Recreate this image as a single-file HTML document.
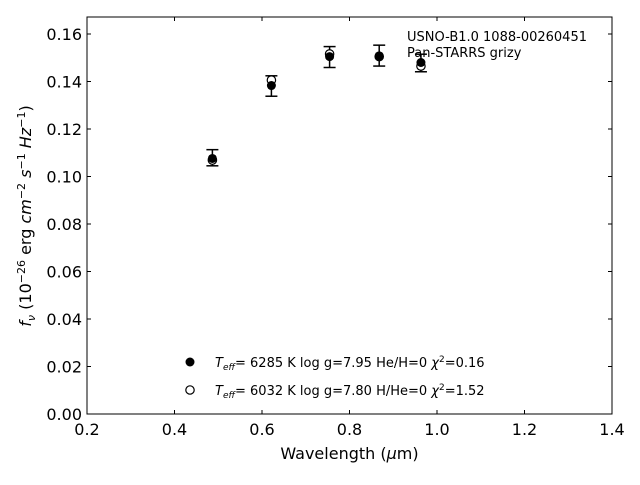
<!DOCTYPE html>
<html><head><meta charset="utf-8"><style>
html,body{margin:0;padding:0;background:#fff}
svg text{font-family:"DejaVu Sans","Liberation Sans",sans-serif}
</style></head><body>
<svg id="chart" width="640" height="480" viewBox="0 0 640 480" xmlns="http://www.w3.org/2000/svg">
<rect x="87" y="17" width="525" height="397" fill="none" stroke="#000" stroke-width="1"/>
<g id="axes"></g>
<g id="marks"></g>
<text x="349.5" y="459" font-size="16" text-anchor="middle">Wavelength (<tspan font-style="italic">μ</tspan>m)</text>
<text transform="translate(31,216) rotate(-90)" font-size="16" text-anchor="middle"><tspan font-style="italic">f</tspan><tspan font-style="italic" font-size="11" dy="4">ν</tspan><tspan dy="-4"> (10</tspan><tspan font-size="11" dy="-6">−26</tspan><tspan dy="6"> erg </tspan><tspan font-style="italic">cm</tspan><tspan font-size="11" dy="-6">−2</tspan><tspan dy="6"> </tspan><tspan font-style="italic">s</tspan><tspan font-size="11" dy="-6">−1</tspan><tspan dy="6"> </tspan><tspan font-style="italic">Hz</tspan><tspan font-size="11" dy="-6">−1</tspan><tspan dy="6">)</tspan></text>
<text x="407" y="41" font-size="13">USNO-B1.0 1088-00260451</text>
<text x="407" y="57" font-size="13">Pan-STARRS grizy</text>
<g font-size="13">
<circle cx="190" cy="362" r="4.5" fill="#000"/>
<text x="215" y="367"><tspan font-style="italic">T</tspan><tspan font-style="italic" font-size="9" dy="3">eff</tspan><tspan dy="-3">=  6285 K  log g=7.95  He/H=0  </tspan><tspan font-style="italic">χ</tspan><tspan font-size="9" dy="-5">2</tspan><tspan dy="5">=0.16</tspan></text>
<circle cx="190" cy="390" r="4.2" fill="#fff" stroke="#000" stroke-width="1.2"/>
<text x="215" y="395"><tspan font-style="italic">T</tspan><tspan font-style="italic" font-size="9" dy="3">eff</tspan><tspan dy="-3">=  6032 K  log g=7.80  H/He=0  </tspan><tspan font-style="italic">χ</tspan><tspan font-size="9" dy="-5">2</tspan><tspan dy="5">=1.52</tspan></text>
</g>
</svg>
<script>
const wavelengths = [0.4866, 0.6215, 0.7545, 0.8679, 0.9633];
const observedFlux = [0.1079, 0.1381, 0.1503, 0.1509, 0.1478];
const fluxErrors = [0.0034, 0.0043, 0.0044, 0.0044, 0.0037];
const modelHFlux = [0.1076, 0.1383, 0.1505, 0.1508, 0.1480];
const modelHeFlux = [0.1069, 0.1406, 0.1516, 0.1505, 0.1465];
const xTicks = [0.2, 0.4, 0.6, 0.8, 1.0, 1.2, 1.4];
const xTickLabels = ["0.2", "0.4", "0.6", "0.8", "1.0", "1.2", "1.4"];
const yTicks = [0, 0.02, 0.04, 0.06, 0.08, 0.10, 0.12, 0.14, 0.16];
const yTickLabels = ["0.00", "0.02", "0.04", "0.06", "0.08", "0.10", "0.12", "0.14", "0.16"];

const L=87,R=612,T=17,B=414, XMIN=0.2,XMAX=1.4,YMIN=0,YMAX=0.16716;
const xs=v=>L+(v-XMIN)/(XMAX-XMIN)*(R-L);
const ys=v=>B-(v-YMIN)/(YMAX-YMIN)*(B-T);
const NS="http://www.w3.org/2000/svg";
function mk(tag,attrs,parent){const e=document.createElementNS(NS,tag);for(const k in attrs)e.setAttribute(k,attrs[k]);parent.appendChild(e);return e;}
const axes=document.getElementById('axes'), marks=document.getElementById('marks');
xTicks.forEach((t,i)=>{
  const x=xs(t);
  const a=mk('line',{x1:x,x2:x,y1:B,y2:B-4,stroke:'#000'},axes);
  
  
  const b=mk('line',{x1:x,x2:x,y1:T,y2:T+4,stroke:'#000'},axes);
  
  
  const tx=mk('text',{x:x,y:B+21,'font-size':16,'text-anchor':'middle'},axes);
  tx.textContent=xTickLabels[i];
  
  
});
yTicks.forEach((t,i)=>{
  const y=ys(t);
  const a=mk('line',{x1:L,x2:L+4,y1:y,y2:y,stroke:'#000'},axes);
  
  
  const b=mk('line',{x1:R,x2:R-4,y1:y,y2:y,stroke:'#000'},axes);
  
  
  const tx=mk('text',{x:L-5,y:y+6,'font-size':16,'text-anchor':'end'},axes);
  tx.textContent=yTickLabels[i];
  
  
});
wavelengths.forEach((w,i)=>{
  const x=xs(w);
  const y1=ys(observedFlux[i]-fluxErrors[i]), y2=ys(observedFlux[i]+fluxErrors[i]);
  const g=mk('g',{},marks);
  
  
  mk('line',{x1:x,x2:x,y1:y1,y2:y2,stroke:'#000','stroke-width':1.5},g);
  mk('line',{x1:x-6,x2:x+6,y1:y1,y2:y1,stroke:'#000','stroke-width':1.5},g);
  mk('line',{x1:x-6,x2:x+6,y1:y2,y2:y2,stroke:'#000','stroke-width':1.5},g);
  const o=mk('circle',{cx:x,cy:ys(modelHeFlux[i]),r:4.2,fill:'#fff',stroke:'#000','stroke-width':1.2},marks);
  
  
  const f=mk('circle',{cx:x,cy:ys(modelHFlux[i]),r:4.5,fill:'#000'},marks);
  
  
});
</script>
</body></html>
